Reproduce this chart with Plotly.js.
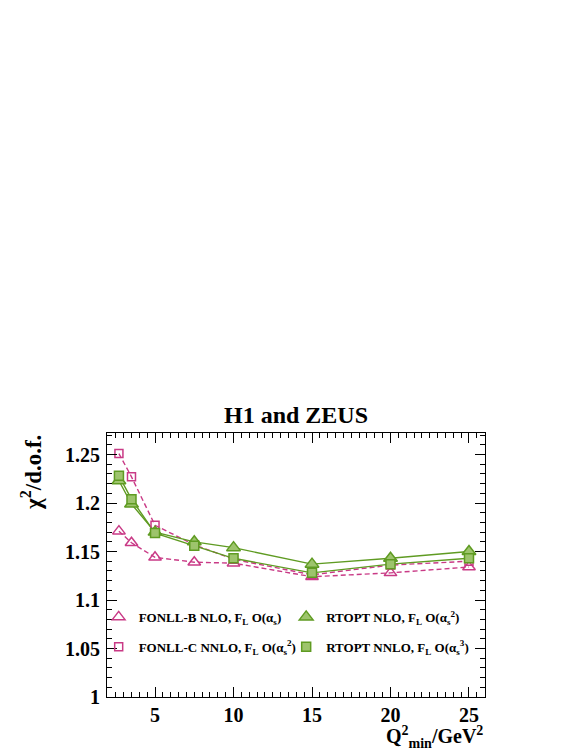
<!DOCTYPE html>
<html>
<head>
<meta charset="utf-8">
<script src="https://cdn.plot.ly/plotly-3.0.1.min.js"></script>
<style>html,body{margin:0;padding:0;background:#fff;}#plot{width:581px;height:752px;}</style>
</head>
<body>
<div id="plot"></div>
<script>
// ---- data ----
const q2min = [2.7, 3.5, 5, 7.5, 10, 15, 20, 25];
const fonllB_NLO = [1.171, 1.159, 1.144, 1.139, 1.138, 1.124, 1.128, 1.134];
const fonllC_NNLO = [1.251, 1.227, 1.177, 1.157, 1.142, 1.126, 1.136, 1.140];
const rtopt_NLO = [1.223, 1.199, 1.170, 1.160, 1.154, 1.137, 1.143, 1.150];
const rtopt_NNLO = [1.228, 1.204, 1.169, 1.156, 1.143, 1.128, 1.137, 1.143];
const seriesNames = [
  "FONLL-B NLO, F<sub>L</sub> O(α<sub>s</sub>)",
  "FONLL-C NNLO, F<sub>L</sub> O(α<sub>s</sub><sup>2</sup>)",
  "RTOPT NLO, F<sub>L</sub> O(α<sub>s</sub><sup>2</sup>)",
  "RTOPT NNLO, F<sub>L</sub> O(α<sub>s</sub><sup>3</sup>)"
];
const xTickVals = [5, 10, 15, 20, 25];
const xTickText = ["5", "10", "15", "20", "25"];
const yTickVals = [1, 1.05, 1.1, 1.15, 1.2, 1.25];
const yTickText = ["1", "1.05", "1.1", "1.15", "1.2", "1.25"];

const PINK = '#c93a86';
const GREEN = '#5f9b22';
const GFILL = '#9dc46c';
const SERIF = '"Liberation Serif"';

function lineTrace(y, color, dash) {
  return {x: q2min, y: y, mode: 'lines', showlegend: false, hoverinfo: 'skip',
    line: {color: color, width: 1.4, dash: dash}};
}
function markTrace(y, name, symbol, size, fill, lineColor, legend, group) {
  return {x: q2min, y: y, mode: 'markers', name: name, legend: legend, legendgroup: group,
    marker: {symbol: symbol, size: size, color: fill, line: {color: lineColor, width: 1.5}}};
}

const data = [
  lineTrace(fonllB_NLO, PINK, '5px,3px'),
  lineTrace(fonllC_NNLO, PINK, '5px,3px'),
  lineTrace(rtopt_NLO, GREEN, 'solid'),
  lineTrace(rtopt_NNLO, GREEN, 'solid'),
  markTrace(fonllB_NLO, seriesNames[0], 'triangle-up-open', 11, PINK, PINK, 'legend', 'a'),
  markTrace(fonllC_NNLO, seriesNames[1], 'square-open', 8, PINK, PINK, 'legend', 'b'),
  markTrace(rtopt_NLO, seriesNames[2], 'triangle-up', 12, GFILL, GREEN, 'legend2', 'c'),
  markTrace(rtopt_NNLO, seriesNames[3], 'square', 9, GFILL, GREEN, 'legend2', 'd')
];

const tickfont = {family: SERIF, size: 20, color: '#000', weight: 'bold'};
const legFont = {family: SERIF, size: 13, color: '#000', weight: 'bold'};

const layout = {
  width: 581, height: 752,
  font: {family: SERIF},
  margin: {l: 107, r: 96, t: 433, b: 55},
  paper_bgcolor: '#fff', plot_bgcolor: '#fff',
  showlegend: true,
  title: {text: 'H1 and ZEUS', font: {family: SERIF, size: 24, color: '#000', weight: 'bold'},
    x: 0.5, xref: 'paper', y: 1 - 415/752, yref: 'container', yanchor: 'middle'},
  xaxis: {range: [1.94, 26.02], showgrid: false, zeroline: false, showline: true,
    linecolor: '#000', linewidth: 1, mirror: 'allticks', ticks: 'inside', ticklen: 10,
    tickcolor: '#000', tickvals: xTickVals, ticktext: xTickText, tickfont: tickfont,
    minor: {dtick: 0.5, tick0: 0, ticks: 'inside', ticklen: 5, tickcolor: '#000', showgrid: false}},
  yaxis: {range: [1.0, 1.2722], showgrid: false, zeroline: false, showline: true,
    linecolor: '#000', linewidth: 1, mirror: 'allticks', ticks: 'inside', ticklen: 10,
    tickcolor: '#000', tickvals: yTickVals, ticktext: yTickText, tickfont: tickfont,
    ticklabelstandoff: 2,
    minor: {dtick: 0.01, tick0: 1, ticks: 'inside', ticklen: 5, tickcolor: '#000', showgrid: false}},
  legend: {x: -0.022, xanchor: 'left', y: 0.36, yanchor: 'top', bgcolor: 'rgba(0,0,0,0)',
    font: legFont, tracegroupgap: 10, itemwidth: 30},
  legend2: {x: 0.474, xanchor: 'left', y: 0.36, yanchor: 'top', bgcolor: 'rgba(0,0,0,0)',
    font: legFont, tracegroupgap: 10, itemwidth: 30},
  annotations: [
    {text: 'χ<sup>2</sup>/d.o.f.', xref: 'paper', yref: 'paper', x: -0.2, y: 1.0,
      xanchor: 'center', yanchor: 'top', textangle: -90, showarrow: false,
      font: {family: SERIF, size: 23, color: '#000', weight: 'bold'}},
    {text: 'Q<sup>2</sup><sub>min</sub>/GeV<sup>2</sup>', xref: 'paper', yref: 'paper', x: 1.0, y: -0.153,
      xanchor: 'right', yanchor: 'middle', showarrow: false,
      font: {family: SERIF, size: 20, color: '#000', weight: 'bold'}}
  ]
};

Plotly.newPlot('plot', data, layout, {staticPlot: true, displayModeBar: false});
</script>
</body>
</html>
